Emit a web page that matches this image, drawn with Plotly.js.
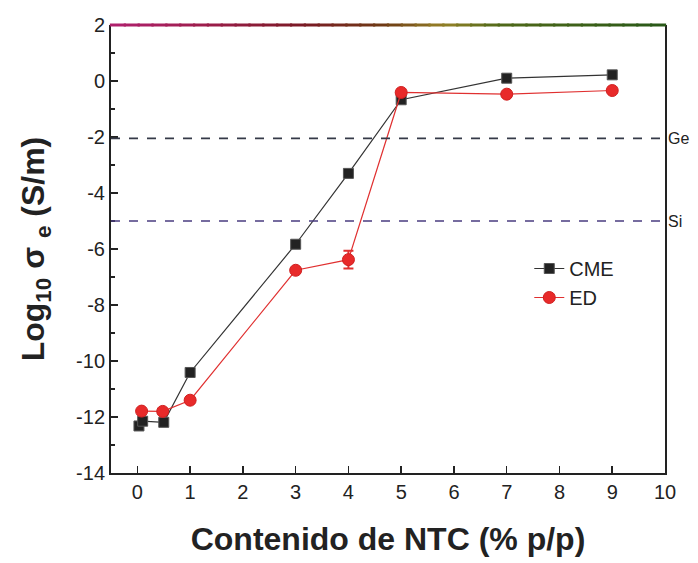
<!DOCTYPE html>
<html>
<head>
<meta charset="utf-8">
<script src="https://cdn.plot.ly/plotly-3.0.1.min.js"></script>
<style>
  html, body { margin: 0; padding: 0; background: #ffffff; }
  #chart { width: 698px; height: 563px; }
</style>
</head>
<body>
<div id="chart"></div>
<script>
// Electrical conductivity (log10, S/m) versus nanotube content
const cmeX = [0.03, 0.1, 0.5, 1, 3, 4, 5, 7, 9];
const cmeY = [-12.32, -12.15, -12.19, -10.41, -5.83, -3.3, -0.67, 0.1, 0.22];

const edX = [0.08, 0.48, 1, 3, 4, 5, 7, 9];
const edY = [-11.79, -11.8, -11.4, -6.76, -6.38, -0.41, -0.47, -0.34];
const edErr = [0, 0, 0, 0, 0.32, 0, 0, 0];

// Reference conductivities of semiconductors
const refNames = ['Ge', 'Si'];
const refValues = [-2.05, -5.0];
const refColors = ['#353a48', '#4a3d80'];

const xTicks = [0, 1, 2, 3, 4, 5, 6, 7, 8, 9, 10];
const yTicks = [2, 0, -2, -4, -6, -8, -10, -12, -14];

const FONT = 'Liberation Sans, Arial, Helvetica, sans-serif';

const traces = [
  {
    x: cmeX, y: cmeY, name: 'CME', type: 'scatter', mode: 'lines+markers',
    line: { color: '#333333', width: 1.2 },
    marker: { symbol: 'square', size: 10, color: '#222222', line: { color: '#555555', width: 1 } }
  },
  {
    x: edX, y: edY, name: 'ED', type: 'scatter', mode: 'lines+markers',
    line: { color: '#e03030', width: 1.2 },
    marker: { symbol: 'circle', size: 12, color: '#e82a2a', line: { color: '#d02020', width: 1 } },
    error_y: { type: 'data', array: edErr, visible: true, color: '#e03030', thickness: 2, width: 5 }
  }
];

const shapes = refValues.map((v, i) => ({
  type: 'line', xref: 'paper', yref: 'y', x0: 0, x1: 1, y0: v, y1: v,
  line: { color: refColors[i], width: 1.6, dash: 'dash' }
}));

// Multicoloured top frame line
const stops = [
  [0.00, [176, 32, 110]],
  [0.15, [160, 30, 80]],
  [0.35, [122, 26, 36]],
  [0.50, [110, 60, 20]],
  [0.60, [150, 130, 40]],
  [0.70, [80, 105, 25]],
  [1.00, [40, 88, 24]]
];
function colorAt(t) {
  for (let i = 0; i < stops.length - 1; i++) {
    const [t0, c0] = stops[i], [t1, c1] = stops[i + 1];
    if (t >= t0 && t <= t1) {
      const f = (t - t0) / (t1 - t0);
      const c = c0.map((v, k) => Math.round(v + (c1[k] - v) * f));
      return `rgb(${c[0]},${c[1]},${c[2]})`;
    }
  }
  return 'rgb(40,88,24)';
}
const nSeg = 40;
for (let i = 0; i < nSeg; i++) {
  const a = i / nSeg, b = (i + 1) / nSeg;
  shapes.push({
    type: 'line', xref: 'paper', yref: 'paper', x0: a - 0.002, x1: b + 0.002, y0: 1, y1: 1,
    line: { color: colorAt((a + b) / 2), width: 3 }
  });
}

const annotations = refNames.map((n, i) => ({
  xref: 'paper', yref: 'y', x: 1, y: refValues[i], text: n,
  showarrow: false, xanchor: 'left', xshift: 1,
  font: { family: FONT, size: 16, color: '#222222' }
}));

const layout = {
  width: 698, height: 563,
  margin: { l: 111, r: 33, t: 25, b: 90 },
  paper_bgcolor: '#ffffff', plot_bgcolor: '#ffffff',
  font: { family: FONT, color: '#222222' },
  showlegend: true,
  legend: {
    x: 0.755, y: 0.5, xanchor: 'left', yanchor: 'top',
    bgcolor: 'rgba(0,0,0,0)', font: { family: FONT, size: 20, color: '#222222' },
    itemwidth: 30, tracegroupgap: 2
  },
  xaxis: {
    range: [-0.5, 10], tickvals: xTicks, ticktext: xTicks.map(String),
    ticks: 'inside', ticklen: 7, tickwidth: 1.5, tickcolor: '#222222',
    showline: true, linewidth: 2, linecolor: '#222222', mirror: false,
    showgrid: false, zeroline: false,
    tickfont: { family: FONT, size: 20, color: '#222222' },
    title: { text: '<b>Contenido de NTC (% p/p)</b>', font: { family: FONT, size: 32, color: '#222222' }, standoff: 26 }
  },
  yaxis: {
    range: [-14, 2], tickvals: yTicks, ticktext: yTicks.map(String),
    ticks: 'inside', ticklen: 7, tickwidth: 1.5, tickcolor: '#222222',
    minor: { dtick: 1, ticks: 'inside', ticklen: 4, tickwidth: 1.2, tickcolor: '#222222', showgrid: false },
    showline: true, linewidth: 2, linecolor: '#222222', mirror: true,
    showgrid: false, zeroline: false,
    tickfont: { family: FONT, size: 20, color: '#222222' },
    title: { text: '<b>Log<sub>10</sub> σ <sub>e</sub> (S/m)</b>', font: { family: FONT, size: 32, color: '#222222' }, standoff: 22 }
  },
  shapes: shapes,
  annotations: annotations
};

Plotly.newPlot('chart', traces, layout, { displayModeBar: false, staticPlot: true });
</script>
</body>
</html>
